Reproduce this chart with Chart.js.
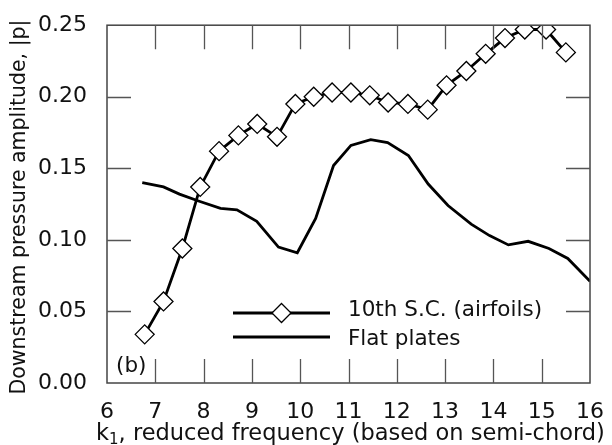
<!DOCTYPE html>
<html><head><meta charset="utf-8">
<script src="https://cdn.jsdelivr.net/npm/chart.js@4/dist/chart.umd.min.js"></script>
<style>html,body{margin:0;padding:0;background:#fff}#wrap{width:612px;height:445px;position:relative}</style>
</head><body><div id="wrap"><canvas id="c" width="612" height="445"></canvas></div>
<script>
const airfoilK = [6.78,7.17,7.56,7.93,8.32,8.72,9.11,9.52,9.90,10.28,10.66,11.05,11.44,11.82,12.23,12.64,13.03,13.44,13.84,14.24,14.65,15.09,15.50];
const airfoilP = [0.034,0.057,0.094,0.137,0.162,0.173,0.181,0.172,0.195,0.200,0.203,0.203,0.201,0.196,0.195,0.191,0.208,0.218,0.230,0.241,0.247,0.247,0.231];
const plateK = [6.73,7.17,7.50,7.91,8.35,8.69,9.10,9.55,9.94,10.32,10.69,11.05,11.46,11.81,12.24,12.65,13.06,13.54,13.92,14.31,14.72,15.15,15.54,16.0];
const plateP = [0.140,0.137,0.132,0.127,0.122,0.121,0.113,0.095,0.091,0.115,0.152,0.166,0.170,0.168,0.159,0.139,0.124,0.111,0.103,0.0965,0.099,0.094,0.087,0.071];
const xTicks = [6,7,8,9,10,11,12,13,14,15,16];
const yTicks = [0,0.05,0.10,0.15,0.20,0.25];
const seriesNames = ['10th S.C. (airfoils)','Flat plates'];
const panelLabel = '(b)';
const xTitleMain = 'k';
const xTitleSub = '1';
const xTitleRest = ', reduced frequency (based on semi-chord)';
const yTitle = 'Downstream pressure amplitude, |p|';

const FONT = '"DejaVu Sans", sans-serif';
const TXT = '#111';

const decor = {
  id:'decor',
  afterDraw(chart){
    const {ctx, chartArea:a, scales:{x,y}} = chart;
    ctx.save();
    ctx.strokeStyle = '#444'; ctx.lineWidth = 1.5;
    ctx.strokeRect(a.left, a.top, a.right-a.left, a.bottom-a.top);
    ctx.strokeStyle = '#555'; ctx.lineWidth = 1.3;
    const L = 24;
    ctx.beginPath();
    xTicks.slice(1,-1).forEach(v=>{
      const px = Math.round(x.getPixelForValue(v))+0.5;
      ctx.moveTo(px,a.bottom); ctx.lineTo(px,a.bottom-L);
      ctx.moveTo(px,a.top); ctx.lineTo(px,a.top+L);
    });
    yTicks.slice(1,-1).forEach(v=>{
      const py = Math.round(y.getPixelForValue(v))+0.5;
      ctx.moveTo(a.left,py); ctx.lineTo(a.left+L,py);
      ctx.moveTo(a.right,py); ctx.lineTo(a.right-L,py);
    });
    ctx.stroke();
    const lx0 = 233, lx1 = 330, ly1 = 313, ly2 = 337;
    ctx.strokeStyle = '#000'; ctx.lineWidth = 2.8;
    ctx.beginPath(); ctx.moveTo(lx0,ly1); ctx.lineTo(lx1,ly1); ctx.moveTo(lx0,ly2); ctx.lineTo(lx1,ly2); ctx.stroke();
    const cx=(lx0+lx1)/2, r=9.5;
    ctx.beginPath(); ctx.moveTo(cx,ly1-r); ctx.lineTo(cx+r,ly1); ctx.lineTo(cx,ly1+r); ctx.lineTo(cx-r,ly1); ctx.closePath();
    ctx.fillStyle='#fff'; ctx.fill(); ctx.lineWidth=1.3; ctx.stroke();
    ctx.fillStyle = TXT; ctx.font = '21.5px '+FONT; ctx.textBaseline='alphabetic'; ctx.textAlign='left';
    ctx.fillText(seriesNames[0], 348, 316);
    ctx.fillText(seriesNames[1], 348, 345);
    ctx.fillText(panelLabel, 116, 372);
    ctx.font = '22.5px '+FONT;
    let tx = 96, ty = 440;
    ctx.fillText(xTitleMain, tx, ty); tx += ctx.measureText(xTitleMain).width;
    ctx.font = '15px '+FONT; ctx.fillText(xTitleSub, tx, ty+4); tx += ctx.measureText(xTitleSub).width;
    ctx.font = '22.5px '+FONT; ctx.fillText(xTitleRest, tx, ty);
    ctx.font = '20.5px '+FONT;
    ctx.save(); ctx.translate(25, 207); ctx.rotate(-Math.PI/2);
    ctx.textAlign='center'; ctx.textBaseline='alphabetic';
    ctx.fillText(yTitle, 0, 0);
    ctx.restore();
    ctx.restore();
  }
};

new Chart(document.getElementById('c'), {
  type:'scatter',
  data:{datasets:[
    {label:seriesNames[0], data:airfoilK.map((k,i)=>({x:k,y:airfoilP[i]})), showLine:true,
     borderColor:'#000', borderWidth:2.8, pointStyle:'rectRot', pointRadius:9.5, pointBorderWidth:1.3,
     pointBackgroundColor:'#fff', pointBorderColor:'#000', order:0},
    {label:seriesNames[1], data:plateK.map((k,i)=>({x:k,y:plateP[i]})), showLine:true,
     borderColor:'#000', borderWidth:2.8, pointRadius:0, order:1}
  ]},
  options:{
    responsive:false, animation:false, events:[],
    layout:{padding:{top:21,right:17,left:0,bottom:0}},
    plugins:{legend:{display:false},tooltip:{enabled:false}},
    scales:{
      x:{type:'linear',min:6,max:16,
        afterBuildTicks(s){s.ticks=xTicks.map(v=>({value:v}));},
        afterFit(s){s.height=62;},
        grid:{display:false}, border:{display:false},
        ticks:{color:TXT,font:{family:FONT,size:22},padding:8,maxRotation:0,autoSkip:false,callback:v=>String(v)}},
      y:{type:'linear',min:0,max:0.25,
        afterBuildTicks(s){s.ticks=yTicks.map(v=>({value:v}));},
        afterFit(s){s.width=107;},
        grid:{display:false}, border:{display:false},
        ticks:{color:TXT,font:{family:FONT,size:22},padding:12,callback:v=>v.toFixed(2)}}
    }
  },
  plugins:[decor]
});
</script></body></html>
